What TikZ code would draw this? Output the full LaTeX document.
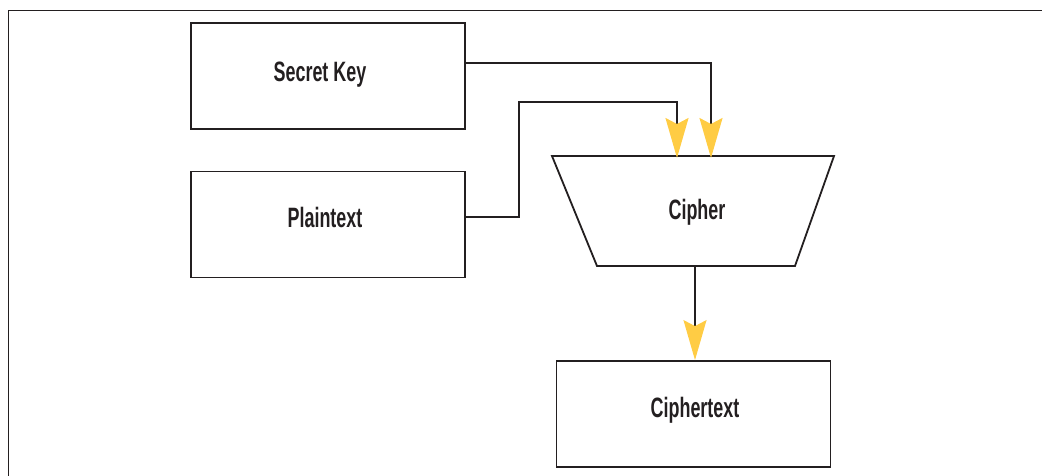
\documentclass[tikz,border=0pt]{standalone}
\usepackage{fontspec}
\newfontfamily\labelfont[FakeStretch=0.64]{Liberation Sans}
\usetikzlibrary{arrows.meta}
\definecolor{ink}{HTML}{231F20}
\definecolor{tipyellow}{HTML}{FFCC44}
\tikzset{
  box/.style={draw=ink, line width=1.8pt, minimum width=274pt, minimum height=106pt, inner sep=0pt},
  lbl/.style={font=\labelfont\bfseries\fontsize{28}{32}\selectfont, text=ink, inner sep=0pt},
  conn/.style={draw=ink, line width=1.8pt, -{Stealth[length=40pt, width=23pt, inset=6pt, color=tipyellow, fill=tipyellow]}},
  plain/.style={draw=ink, line width=1.8pt},
}
\begin{document}
\begin{tikzpicture}[x=1pt, y=-1pt]
\useasboundingbox (0,0) rectangle (1042,476);
% frame
\draw[ink, line width=1.8pt] (8.5,476) -- (8.5,10.5) -- (1042,10.5);
% boxes
\node[box] (sk) at (328,76) {};
\node[box] (pt) at (328,224.5) {};
\node[box] (ct) at (693.5,414) {};
\node[lbl] (skl) at (320,75) {Secret Key};
\node[lbl] (ptl) at (325,217) {Plaintext};
\node[lbl] (ctl) at (695,410) {Ciphertext};
% cipher trapezoid
\coordinate (c1) at (552,156);
\coordinate (c2) at (834,156);
\coordinate (c3) at (795,266);
\coordinate (c4) at (597,266);
\draw[plain, line join=miter] (c1) -- (c2) -- (c3) -- (c4) -- cycle;
\node[lbl] (ci) at (697,212) {Cipher};
\coordinate (inA) at (677,158);
\coordinate (inB) at (711,158);
\coordinate (outC) at (695,266);
% connectors
\draw[conn] (sk.east |- 0,63) -| (inB);
\draw[conn] (pt.east |- 0,217) -- (519,217) |- (677,102) -- (inA);
\draw[conn] (outC) -- (ct.north -| outC);
\end{tikzpicture}
\end{document}
